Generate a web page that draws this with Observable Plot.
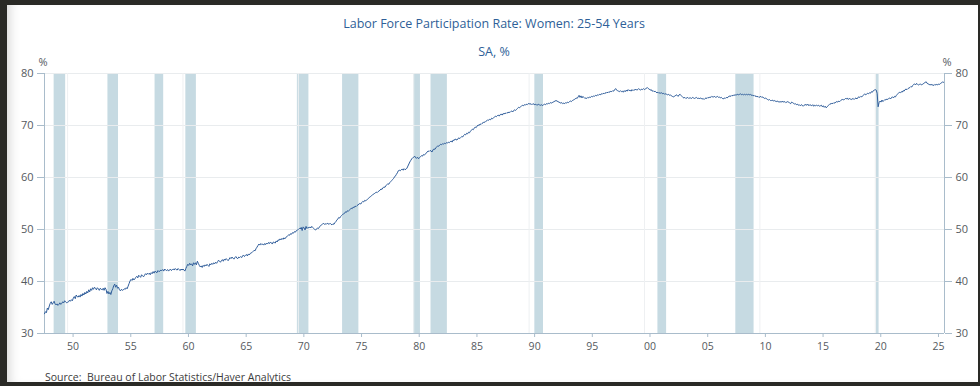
<!DOCTYPE html>
<html>
<head>
<meta charset="utf-8">
<script src="https://cdn.jsdelivr.net/npm/d3@7"></script>
<script src="https://cdn.jsdelivr.net/npm/@observablehq/plot@0.6"></script>
<style>
  html, body { margin: 0; padding: 0; background: #222; }
  #page { position: relative; width: 980px; height: 386px; overflow: hidden; background: #2a2a26; }
  #card { position: absolute; left: 7px; top: 5px; width: 971px; height: 377px; background: #fff;
          box-shadow: inset 10px 0 12px -8px rgba(0,0,0,0.18); }
  #chart { position: absolute; left: 0; top: 0; }
  .t { position: absolute; font-family: "Open Sans", "Noto Sans", sans-serif; white-space: nowrap; }
  #title { left: 0; width: 988px; text-align: center; top: 15px; font-size: 12.5px; color: #2f5f98; }
  #sub { left: 0; width: 988px; text-align: center; top: 43px; font-size: 12.5px; color: #2f5f98; }
  #src { left: 45px; top: 370px; font-size: 10.5px; color: #3c3c3c; }
</style>
</head>
<body>
<div id="page">
  <div id="card"></div>
  <div id="chart"></div>
  <div class="t" id="title">Labor Force Participation Rate: Women: 25-54 Years</div>
  <div class="t" id="sub">SA, %</div>
  <div class="t" id="src">Source:&nbsp; Bureau of Labor Statistics/Haver Analytics</div>
</div>
<script>
// Monthly values, women 25-54 labor force participation rate (SA, %), starting Jan of first year
const firstYear = 1948;
const rate1940s = [
  33.8,34.2,34.0,34.9,34.6,35.3,35.8,36.1,35.6,35.9,36.2,35.7,
  35.5,35.7,35.4,35.6,35.9,35.6,35.8,36.1,35.9,36.3,36.1,35.9
];
const rate1950s = [
  36.0,36.1,36.4,36.2,36.5,36.3,36.8,37.1,36.7,37.4,37.1,37.0,
  37.3,37.0,37.5,37.2,37.7,37.4,37.9,37.6,38.1,37.8,38.4,38.0,
  38.6,38.3,38.8,38.5,38.9,38.7,38.4,38.8,38.6,38.3,38.7,38.5,
  38.4,38.7,38.3,38.8,38.5,37.7,38.1,37.6,37.9,37.5,38.2,38.6,
  39.2,39.5,38.9,39.3,38.7,38.9,38.4,38.2,38.5,38.3,38.4,38.6,
  38.5,38.8,38.6,39.1,39.6,40.1,40.4,40.2,40.6,40.3,40.5,40.8,
  41.0,40.7,41.2,41.0,40.8,41.3,41.1,40.9,41.2,41.5,41.3,41.6,
  41.4,41.6,41.3,41.7,41.5,41.9,41.6,42.0,41.8,41.7,42.1,41.9,
  42.0,42.2,42.1,42.3,42.0,42.4,42.2,42.1,42.3,42.0,42.2,42.4,
  42.1,42.3,42.4,42.2,42.5,42.3,42.2,42.5,42.3,42.1,42.4,42.2
];
const rate1960s = [
  42.4,42.2,42.0,42.5,42.9,43.3,43.1,43.5,43.2,43.4,43.0,43.6,
  43.3,43.6,43.2,43.9,43.5,43.1,42.8,43.0,42.7,43.1,42.9,43.2,
  43.0,43.3,43.1,42.9,43.4,43.2,43.5,43.3,43.6,43.4,43.7,43.5,
  43.8,44.1,43.9,43.7,44.0,44.2,43.9,44.3,44.1,44.4,44.2,44.0,
  44.3,44.6,44.4,44.7,44.5,44.3,44.6,44.8,44.5,44.4,44.7,44.6,
  44.8,44.6,44.9,45.1,44.8,45.0,45.2,44.9,45.3,45.1,45.4,45.5,
  45.6,45.8,46.0,45.9,46.3,46.6,46.9,47.2,47.0,47.3,47.1,47.2,
  47.0,47.3,47.1,47.4,47.2,47.5,47.3,47.6,47.4,47.2,47.6,47.5,
  47.4,47.8,47.6,48.0,47.9,48.2,48.0,48.3,48.1,48.4,48.2,48.5,
  48.6,48.8,49.0,48.9,49.2,49.1,49.4,49.3,49.6,49.5,49.8,49.9
];
const rate1970s = [
  50.0,50.2,50.1,50.4,49.8,50.5,50.3,49.9,50.6,50.2,50.4,50.3,
  50.5,50.3,50.6,50.4,50.2,50.0,49.9,50.1,50.3,50.2,50.5,50.7,
  50.9,51.0,51.2,51.0,51.1,51.0,51.2,51.1,51.0,51.2,51.0,50.9,
  51.1,51.0,51.3,51.5,51.8,52.0,52.3,52.2,52.5,52.7,52.9,53.0,
  53.1,53.4,53.3,53.6,53.5,53.7,53.9,54.1,54.0,54.3,54.2,54.5,
  54.4,54.6,54.7,54.9,55.0,54.9,55.2,55.4,55.3,55.6,55.5,55.7,
  55.8,56.0,56.2,56.3,56.5,56.6,56.8,56.9,57.0,57.2,57.1,57.3,
  57.4,57.6,57.8,57.7,58.0,58.2,58.1,58.4,58.6,58.8,58.7,59.0,
  59.2,59.4,59.6,59.8,60.1,60.3,60.6,60.9,61.3,61.4,61.3,61.5,
  61.6,61.4,61.7,61.5,61.6,61.8,62.2,62.6,63.0,63.3,63.6,63.8
];
const rate1980s = [
  63.9,64.1,63.8,63.7,63.9,63.6,63.8,64.0,64.2,64.1,64.4,64.3,
  64.5,64.7,64.9,65.1,65.0,65.2,65.1,64.9,65.3,65.5,65.4,65.7,
  65.9,66.1,66.0,66.2,66.4,66.3,66.5,66.4,66.6,66.5,66.7,66.6,
  66.8,66.7,66.9,67.0,66.8,67.2,67.1,67.4,67.3,67.2,67.5,67.6,
  67.5,67.7,67.9,67.8,68.1,68.3,68.2,68.5,68.4,68.7,68.6,68.9,
  69.1,69.3,69.2,69.5,69.7,69.6,69.9,70.1,70.0,70.3,70.2,70.4,
  70.5,70.7,70.6,70.8,70.9,71.1,71.0,71.2,71.1,71.4,71.3,71.5,
  71.6,71.8,71.7,71.9,72.0,71.8,72.1,72.2,72.0,72.3,72.2,72.4,
  72.3,72.5,72.4,72.6,72.5,72.7,72.8,72.6,72.9,73.0,72.9,73.1,
  73.3,73.5,73.4,73.6,73.7,73.9,73.8,74.0,73.9,74.1,74.0,74.2
];
const rate1990s = [
  74.2,74.1,74.2,74.0,74.2,74.1,74.0,74.1,73.9,74.0,74.1,73.9,
  73.9,74.0,73.8,74.0,74.1,74.0,74.2,74.1,74.3,74.2,74.4,74.3,
  74.4,74.5,74.6,74.7,74.8,74.7,74.6,74.5,74.4,74.3,74.4,74.2,
  74.3,74.2,74.4,74.3,74.5,74.4,74.6,74.7,74.6,74.8,74.9,75.0,
  75.1,75.3,75.2,75.5,75.8,75.4,75.7,75.3,75.6,75.4,75.2,75.3,
  75.2,75.4,75.3,75.5,75.4,75.6,75.5,75.7,75.6,75.8,75.7,75.9,
  75.8,76.0,75.9,76.1,76.0,76.2,76.1,76.3,76.2,76.4,76.3,76.5,
  76.4,76.6,76.5,76.7,76.6,76.9,77.1,76.8,76.7,76.6,76.5,76.7,
  76.5,76.6,76.4,76.7,76.5,76.8,76.6,76.9,76.7,76.8,76.6,76.9,
  76.7,76.9,76.8,77.0,76.8,76.9,77.1,76.9,76.8,77.0,76.9,77.1
];
const rate2000s = [
  76.9,77.0,77.2,77.3,77.1,77.0,76.8,76.9,76.6,76.7,76.5,76.6,
  76.4,76.3,76.4,76.2,76.3,76.2,76.3,76.1,76.2,76.0,76.1,76.0,
  75.9,76.0,75.8,75.9,75.7,75.6,75.5,75.6,75.7,75.9,75.8,75.6,
  75.9,76.0,75.8,75.6,75.4,75.3,75.4,75.2,75.3,75.4,75.2,75.3,
  75.3,75.2,75.4,75.3,75.2,75.3,75.4,75.2,75.3,75.1,75.3,75.2,
  75.1,75.2,75.0,75.2,75.3,75.2,75.4,75.3,75.5,75.4,75.6,75.5,
  75.5,75.6,75.4,75.5,75.6,75.4,75.5,75.3,75.4,75.2,75.1,75.3,
  75.2,75.4,75.3,75.5,75.6,75.7,75.6,75.8,75.7,75.9,75.8,75.9,
  75.9,76.0,75.9,76.0,76.1,75.9,76.0,75.9,76.0,75.9,76.0,75.9,
  76.0,75.9,76.0,75.8,75.9,75.7,75.8,75.6,75.7,75.5,75.6,75.4
];
const rate2010s = [
  75.5,75.6,75.4,75.5,75.3,75.2,75.3,75.1,75.0,74.9,75.0,74.8,
  74.8,74.9,74.7,74.8,74.7,74.6,74.7,74.6,74.5,74.6,74.5,74.6,
  74.6,74.5,74.6,74.4,74.5,74.6,74.5,74.3,74.2,74.5,74.4,74.3,
  74.1,74.2,74.0,74.1,73.9,74.0,73.8,74.0,73.9,73.7,73.9,74.0,
  74.0,73.9,74.1,73.8,74.0,73.9,73.8,74.0,73.7,73.9,73.8,73.9,
  73.8,73.9,73.7,73.8,73.9,73.6,73.8,73.5,73.7,73.4,73.6,73.8,
  74.0,74.2,74.1,74.3,74.2,74.4,74.3,74.5,74.6,74.5,74.7,74.6,
  74.8,74.9,75.1,74.9,75.0,75.2,75.1,75.3,75.0,75.2,75.1,75.0,
  75.1,75.2,75.0,75.2,75.3,75.1,75.4,75.5,75.4,75.6,75.5,75.7,
  75.9,76.1,75.9,76.0,76.2,76.1,76.3,76.2,76.5,76.4,76.7,76.8
];
const rate2020s = [
  76.9,76.8,76.2,73.6,74.4,74.7,74.5,74.9,74.6,74.8,75.0,74.9,
  75.1,75.0,75.2,75.3,75.1,75.4,75.5,75.3,75.6,75.5,75.8,76.0,
  76.2,76.4,76.3,76.5,76.4,76.7,76.6,76.9,77.0,76.9,77.1,77.2,
  77.3,77.5,77.4,77.7,77.9,78.0,77.8,78.1,77.9,77.8,77.9,78.0,
  77.8,77.9,78.0,78.2,78.3,78.4,78.1,78.0,77.9,77.8,77.9,77.8,
  77.8,77.7,77.9,77.8,77.9,77.8,78.0,77.9,78.1,78.2,78.4,78.3
];

// NBER recessions: [peak month, trough month] as "YYYY-MM"
const recessionStarts = ["1948-11","1953-07","1957-08","1960-04","1969-12","1973-11","1980-01","1981-07","1990-07","2001-03","2007-12","2020-02"];
const recessionEnds   = ["1949-10","1954-05","1958-04","1961-02","1970-11","1975-03","1980-07","1982-11","1991-03","2001-11","2009-06","2020-04"];

const yTicks = [30, 40, 50, 60, 70, 80];
const yGrid = [40, 50, 60, 70, 80];
const xTickYears = d3.range(1950, 2026, 5);
const xGridYears = d3.range(1950, 2021, 10);

const values = [].concat(rate1940s, rate1950s, rate1960s, rate1970s, rate1980s, rate1990s, rate2000s, rate2010s, rate2020s);
const series = values.map((v, i) => ({
  date: new Date(Date.UTC(firstYear + Math.floor(i / 12), i % 12, 1)),
  value: v
}));
const ym = s => { const [y, m] = s.split("-").map(Number); return new Date(Date.UTC(y, m - 1, 1)); };
const ymEnd = s => { const [y, m] = s.split("-").map(Number); return new Date(Date.UTC(y, m, 1)); };
const recessions = recessionStarts.map((s, i) => ({ start: ym(s), end: ymEnd(recessionEnds[i]) }));
const yr = y => new Date(Date.UTC(y, 0, 1));
const xDomain = [yr(1948), yr(2026)];

const axisColor = "#a9bccb";
const labelColor = "#555a60";
const fmt = d => String(d.getUTCFullYear() % 100).padStart(2, "0");

const chart = Plot.plot({
  width: 980,
  height: 386,
  marginLeft: 44,
  marginRight: 36,
  marginTop: 73,
  marginBottom: 53,
  style: { background: "transparent", fontFamily: "'Open Sans', 'Noto Sans', sans-serif", fontSize: "10.5px" },
  x: { type: "utc", domain: xDomain },
  y: { domain: [30, 80] },
  marks: [
    Plot.rect(recessions, { x1: "start", x2: "end", fill: "#c6dae2" }),
    Plot.ruleY(yGrid, { stroke: "#e9ecee", strokeWidth: 1 }),
    Plot.ruleX(xGridYears.map(yr), { stroke: "#eef0f2", strokeWidth: 1 }),
    Plot.ruleY([30], { stroke: axisColor }),
    Plot.ruleX(xDomain, { stroke: axisColor }),
    Plot.axisY(yTicks, { anchor: "left", tickSize: 7, tickPadding: 4, stroke: axisColor, color: labelColor, fontSize: 11, label: null }),
    Plot.axisY(yTicks, { anchor: "right", tickSize: 7, tickPadding: 4, stroke: axisColor, color: labelColor, fontSize: 11, label: null }),
    Plot.axisX(xTickYears.map(yr), { anchor: "bottom", tickSize: 4, tickPadding: 5, stroke: axisColor, color: labelColor, fontSize: 10.5, tickFormat: fmt, dx: 5.5, label: null }),
    Plot.text(["%"], { frameAnchor: "top-left", dx: -6, dy: -15, fill: labelColor, fontSize: 11 }),
    Plot.text(["%"], { frameAnchor: "top-right", dx: 7, dy: -15, fill: labelColor, fontSize: 11 }),
    Plot.line(series, { x: "date", y: "value", stroke: "#2e5c9a", strokeWidth: 1 })
  ]
});
document.getElementById("chart").appendChild(chart);
</script>
</body>
</html>
